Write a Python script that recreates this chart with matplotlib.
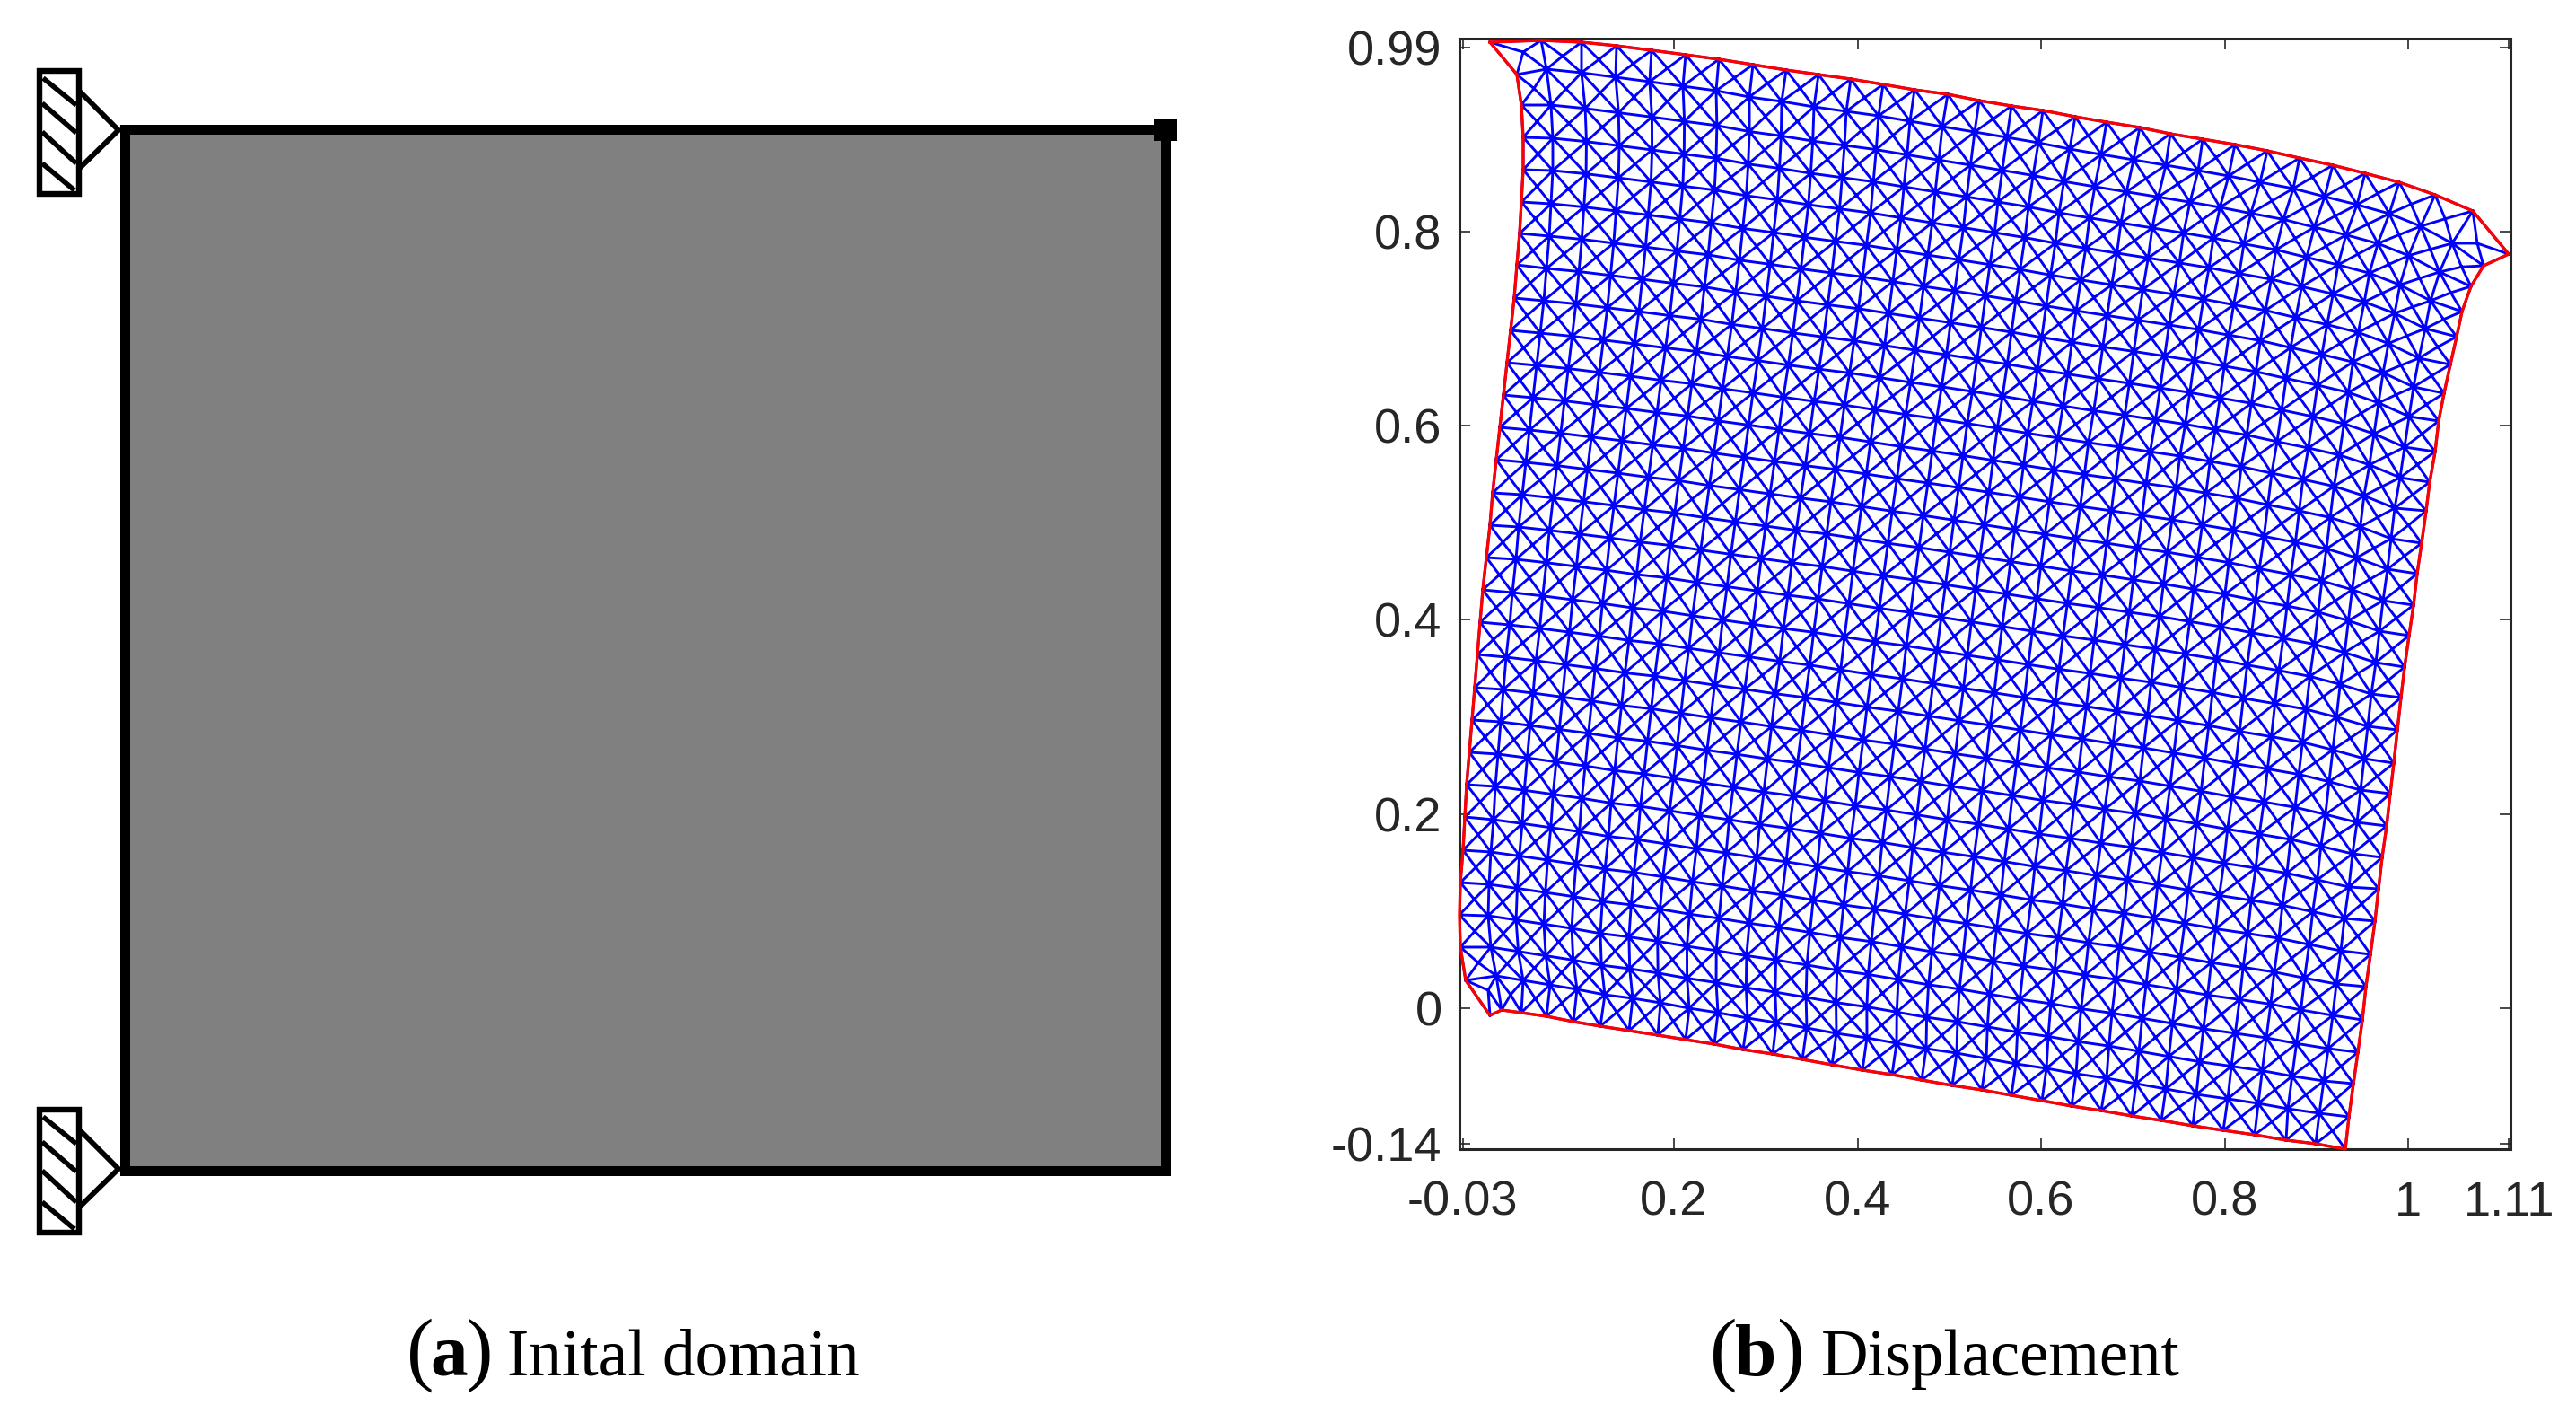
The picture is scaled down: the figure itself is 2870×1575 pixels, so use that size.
import matplotlib
matplotlib.use('Agg')
import matplotlib.pyplot as plt
import numpy as np
from matplotlib.patches import Polygon, Rectangle
from matplotlib.tri import Triangulation

WIDTH = 2870
HEIGHT = 1575
DPI = 200

X_PX_AT_02 = 1865
X_PX_AT_1 = 2683
Y_PX_AT_0 = 1123
Y_PX_AT_08 = 258

x_ticks = [-0.03, 0.2, 0.4, 0.6, 0.8, 1, 1.11]
x_tick_labels = ['-0.03', '0.2', '0.4', '0.6', '0.8', '1', '1.11']
y_ticks = [-0.14, 0, 0.2, 0.4, 0.6, 0.8, 0.99]
y_tick_labels = ['-0.14', '0', '0.2', '0.4', '0.6', '0.8', '0.99']

# mesh outline nodes, digitised in pixels
top_x = [1660, 1717, 1762, 1801, 1840, 1878, 1915, 1953, 1990, 2026, 2062, 2098, 2133, 2170, 2205, 2241,
         2276, 2312, 2347, 2384, 2418, 2454, 2490, 2526, 2562, 2599, 2635, 2673, 2713, 2755, 2795]
top_y = [47, 45, 47, 51, 56, 61, 66, 72, 78, 83, 88, 94, 100, 105, 112, 118,
         123, 130, 136, 142, 149, 155, 161, 168, 176, 184, 193, 203, 217, 235, 283]
right_x = [2795, 2767, 2753, 2743, 2737, 2730, 2723, 2717, 2713, 2707, 2703, 2698, 2693, 2689, 2684, 2679,
           2675, 2671, 2667, 2663, 2659, 2654, 2650, 2646, 2641, 2636, 2632, 2627, 2622, 2617, 2613]
right_y = [283, 296, 319, 347, 375, 406, 438, 469, 503, 537, 569, 605, 639, 674, 708, 743,
           777, 813, 850, 884, 920, 955, 990, 1026, 1063, 1099, 1136, 1172, 1207, 1244, 1280]
bottom_x = [1660, 1673, 1695, 1723, 1753, 1783, 1815, 1847, 1878, 1910, 1942, 1975, 2008, 2041, 2075, 2108,
            2141, 2175, 2208, 2241, 2275, 2308, 2341, 2375, 2408, 2443, 2477, 2512, 2547, 2580, 2613]
bottom_y = [1131, 1125, 1128, 1132, 1138, 1143, 1148, 1153, 1158, 1163, 1169, 1174, 1180, 1186, 1192, 1197,
            1203, 1209, 1214, 1220, 1226, 1232, 1237, 1243, 1248, 1254, 1259, 1264, 1270, 1274, 1280]
left_x = [1660, 1690, 1695, 1697, 1697, 1695, 1693, 1690, 1687, 1683, 1679, 1675, 1671, 1667, 1663, 1660,
          1656, 1652, 1649, 1646, 1643, 1640, 1637, 1634, 1632, 1630, 1627, 1626, 1627, 1633, 1660]
left_y = [47, 83, 117, 153, 189, 225, 260, 295, 332, 368, 404, 440, 476, 512, 549, 585,
          621, 657, 693, 729, 766, 802, 838, 874, 910, 947, 983, 1019, 1055, 1092, 1131]

# first ring of nodes inside the outline
row1_x = [1690, 1723, 1762, 1800, 1838, 1875, 1912, 1949, 1985, 2021, 2057, 2093, 2128, 2164, 2200, 2236,
          2271, 2306, 2341, 2377, 2413, 2449, 2483, 2518, 2555, 2590, 2626, 2662, 2697, 2732, 2767]
row1_y = [83, 77, 81, 86, 91, 96, 101, 108, 113, 119, 124, 129, 135, 141, 147, 153,
          159, 166, 172, 178, 184, 190, 196, 203, 210, 219, 228, 238, 252, 271, 296]
row29_x = [1633, 1667, 1697, 1727, 1757, 1788, 1819, 1850, 1882, 1914, 1947, 1979, 2013, 2046, 2080, 2113,
           2146, 2180, 2213, 2246, 2280, 2313, 2347, 2380, 2413, 2447, 2482, 2516, 2549, 2584, 2617]
row29_y = [1092, 1087, 1092, 1097, 1102, 1108, 1112, 1117, 1123, 1128, 1134, 1139, 1145, 1151, 1156, 1162,
           1168, 1173, 1179, 1185, 1190, 1196, 1201, 1207, 1213, 1219, 1224, 1229, 1235, 1240, 1244]
col1_x = [1717, 1723, 1728, 1730, 1730, 1728, 1726, 1723, 1720, 1716, 1712, 1708, 1704, 1700, 1696, 1692,
          1689, 1685, 1682, 1678, 1675, 1672, 1669, 1666, 1664, 1661, 1659, 1658, 1661, 1667, 1673]
col1_y = [45, 77, 117, 154, 190, 227, 263, 299, 335, 371, 407, 443, 479, 515, 551, 587,
          623, 660, 696, 732, 768, 804, 840, 876, 913, 949, 985, 1020, 1055, 1087, 1125]
col29_x = [2755, 2732, 2718, 2708, 2702, 2695, 2689, 2684, 2679, 2674, 2668, 2664, 2660, 2655, 2651, 2647,
           2642, 2638, 2634, 2630, 2626, 2621, 2617, 2612, 2608, 2603, 2599, 2594, 2589, 2584, 2580]
col29_y = [235, 271, 303, 335, 366, 399, 431, 464, 498, 532, 566, 600, 634, 669, 703, 738,
           773, 809, 845, 880, 916, 951, 988, 1023, 1059, 1096, 1131, 1168, 1204, 1240, 1274]

# centre nodes of the three distorted corner cells: top left, top right, bottom left
corner_cell_i = [0, 29, 0]
corner_cell_j = [0, 0, 29]
corner_cell_x = [1697, 2760, 1658]
corner_cell_y = [58, 271, 1103]

# left panel, in pixels
domain_x = [138.5, 1298.5]
domain_y = [143.5, 1303.5]
load_x = 1297.5
load_y = 143.5
box_x = [43.5, 87.5]
box_y = [79, 216]
pin_x = [88, 132, 88]
pin_y = [101, 145, 188]
hatch_x0 = [48, 47, 47, 47]
hatch_y0 = [87, 115, 147, 182]
hatch_x1 = [85, 85, 85, 83]
hatch_y1 = [117, 148, 182, 212]
support_offsets = [0, 1157]


def to_data_x(px):
    return 0.2 + (np.asarray(px, dtype=float) - X_PX_AT_02) * 0.8 / (X_PX_AT_1 - X_PX_AT_02)


def to_data_y(px):
    return (Y_PX_AT_0 - np.asarray(px, dtype=float)) * 0.8 / (Y_PX_AT_0 - Y_PX_AT_08)


def fill_nodes(top, right, bottom, left, row1, row29, col1, col29):
    # outer two rings are digitised, the interior nodes are blended from the inner ring
    nodes = np.zeros((31, 31))
    nodes[0, :] = top
    nodes[30, :] = bottom
    nodes[:, 0] = left
    nodes[:, 30] = right
    nodes[1, :] = row1
    nodes[29, :] = row29
    nodes[:, 1] = col1
    nodes[:, 29] = col29
    for j in range(2, 29):
        v = (j - 1) / 28
        for i in range(2, 29):
            u = (i - 1) / 28
            nodes[j, i] = ((1 - v) * row1[i] + v * row29[i] + (1 - u) * col1[j] + u * col29[j]
                           - (1 - u) * (1 - v) * row1[1] - u * (1 - v) * row1[29]
                           - (1 - u) * v * row29[1] - u * v * row29[29])
    return nodes


def plot_domain(ax):
    ax.add_patch(Rectangle((domain_x[0], domain_y[0]), domain_x[1] - domain_x[0], domain_y[1] - domain_y[0],
                           facecolor='#808080', edgecolor='black', lw=3.96, joinstyle='miter'))
    ax.plot([load_x], [load_y], 's', color='black', ms=9, mew=0)
    for offset in support_offsets:
        ax.add_patch(Polygon(np.column_stack((pin_x, np.array(pin_y) + offset)), closed=False,
                             facecolor='white', edgecolor='black', lw=2.1, joinstyle='miter'))
        ax.add_patch(Rectangle((box_x[0], box_y[0] + offset), box_x[1] - box_x[0], box_y[1] - box_y[0],
                               facecolor='white', edgecolor='black', lw=2.3, joinstyle='miter'))
        for x0, y0, x1, y1 in zip(hatch_x0, hatch_y0, hatch_x1, hatch_y1):
            ax.plot([x0, x1], [y0 + offset, y1 + offset], color='black', lw=2.0, solid_capstyle='butt')


def plot_mesh(ax):
    grid_x = fill_nodes(top_x, right_x, bottom_x, left_x, row1_x, row29_x, col1_x, col29_x)
    grid_y = fill_nodes(top_y, right_y, bottom_y, left_y, row1_y, row29_y, col1_y, col29_y)

    centre_x = (grid_x[:-1, :-1] + grid_x[:-1, 1:] + grid_x[1:, :-1] + grid_x[1:, 1:]) / 4
    centre_y = (grid_y[:-1, :-1] + grid_y[:-1, 1:] + grid_y[1:, :-1] + grid_y[1:, 1:]) / 4
    for i, j, x, y in zip(corner_cell_i, corner_cell_j, corner_cell_x, corner_cell_y):
        centre_x[j, i] = x
        centre_y[j, i] = y

    xs = to_data_x(np.concatenate((grid_x.ravel(), centre_x.ravel())))
    ys = to_data_y(np.concatenate((grid_y.ravel(), centre_y.ravel())))

    triangles = []
    for j in range(30):
        for i in range(30):
            a = j * 31 + i
            b = a + 1
            c = a + 31
            d = c + 1
            m = 961 + j * 30 + i
            triangles += [[a, b, m], [b, d, m], [d, c, m], [c, a, m]]
    ax.triplot(Triangulation(xs, ys, triangles), color='#0000ff', lw=1.05)

    outline_x = top_x + right_x[1:] + bottom_x[::-1][1:] + left_x[::-1][1:]
    outline_y = top_y + right_y[1:] + bottom_y[::-1][1:] + left_y[::-1][1:]
    ax.plot(to_data_x(outline_x), to_data_y(outline_y), color='#ff0000', lw=1.2, clip_on=False, zorder=3)

    ax.set_xlim(to_data_x(1626), to_data_x(2797))
    ax.set_ylim(to_data_y(1280), to_data_y(43))
    ax.set_xticks(x_ticks)
    ax.set_xticklabels(x_tick_labels)
    ax.set_yticks(y_ticks)
    ax.set_yticklabels(y_tick_labels)
    ax.tick_params(axis='both', direction='in', top=True, right=True, length=4.3, width=0.6,
                   color='#262626', labelcolor='#262626', labelsize=19.5)
    ax.tick_params(axis='x', pad=12.5)
    ax.tick_params(axis='y', pad=7)
    for spine in ax.spines.values():
        spine.set_linewidth(1.1)
        spine.set_color('#262626')


def caption(fig, parts, baseline):
    for x, text, size, weight in parts:
        fig.text(x / WIDTH, 1 - baseline / HEIGHT, text, family='Liberation Serif', fontsize=size,
                 fontweight=weight, color='black', va='baseline', ha='left')


def main():
    plt.rcParams['font.family'] = ['Liberation Sans', 'DejaVu Sans']
    fig = plt.figure(figsize=(WIDTH / DPI, HEIGHT / DPI), dpi=DPI, facecolor='white')

    ax_left = fig.add_axes([0, 0, 0.5, 1])
    ax_left.set_xlim(0, WIDTH / 2)
    ax_left.set_ylim(HEIGHT, 0)
    ax_left.axis('off')
    plot_domain(ax_left)

    ax_right = fig.add_axes([1626 / WIDTH, 1 - 1280 / HEIGHT, (2797 - 1626) / WIDTH, (1280 - 43) / HEIGHT])
    plot_mesh(ax_right)

    caption(fig, [(453, '(', 33, 'normal'), (479, 'a', 30, 'bold'), (519, ')', 33, 'normal'),
                  (565, 'Inital domain', 26.4, 'normal')], 1532)
    caption(fig, [(1905, '(', 33, 'normal'), (1933, 'b', 30, 'bold'), (1980, ')', 33, 'normal'),
                  (2029, 'Displacement', 26.2, 'normal')], 1532)

    fig.savefig('out.png', dpi=DPI, facecolor='white')
    plt.close(fig)


if __name__ == "__main__":
    main()
